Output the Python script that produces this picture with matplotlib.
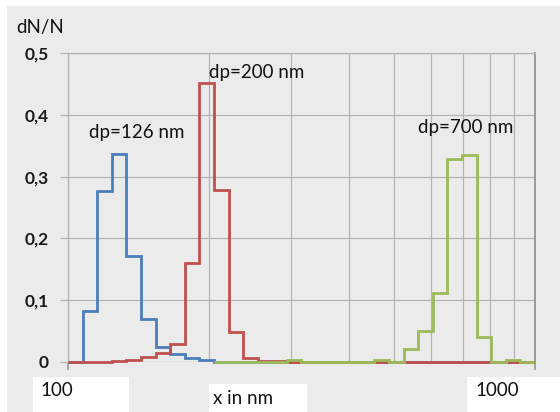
import matplotlib
matplotlib.use("Agg")
import matplotlib.pyplot as plt
from matplotlib.patches import Rectangle
from matplotlib.ticker import FixedLocator, NullFormatter

plt.rcParams['font.family'] = ['Lato', 'DejaVu Sans']

# log-spaced size bins (nm), 32 bins per decade
bin_edges_nm = [100.0, 107.5, 115.5, 124.1, 133.4, 143.3, 154.0, 165.5, 177.8, 191.1,
                205.4, 220.7, 237.1, 254.8, 273.8, 294.3, 316.2, 339.8, 365.2, 392.4,
                421.7, 453.2, 487.0, 523.3, 562.3, 604.3, 649.4, 697.8, 749.9, 805.8,
                866.0, 930.6, 1000.0]

dn_126 = [0, 0.083, 0.277, 0.337, 0.172, 0.070, 0.024, 0.013, 0.007, 0.003,
          0, 0, 0, 0, 0, 0, 0, 0, 0, 0, 0, 0, 0, 0, 0, 0, 0, 0, 0, 0, 0, 0]
dn_200 = [0, 0, 0, 0.0015, 0.003, 0.0075, 0.014, 0.029, 0.161, 0.451,
          0.278, 0.048, 0.006, 0.002, 0.001, 0, 0, 0, 0, 0, 0, 0, 0, 0, 0, 0, 0, 0, 0, 0, 0, 0]
# dp=700 series starts at bin 10 (205.4 nm)
dn_700_start = 10
dn_700 = [0, 0, 0, 0, 0, 0.003, 0, 0, 0, 0, 0, 0.003, 0, 0.0205, 0.050, 0.111,
          0.328, 0.335, 0.041, 0, 0.003, 0]

labels = ["dp=126 nm", "dp=200 nm", "dp=700 nm"]
label_pos = [(137, 0.372), (257, 0.469), (466, 0.380)]
y_ticks = [0, 0.1, 0.2, 0.3, 0.4, 0.5]
x_minor = [200, 300, 400, 500, 600, 700, 800, 900]

W, H = 560, 412
fig = plt.figure(figsize=(W / 100, H / 100), dpi=100, facecolor='white')

bg = '#ebebeb'
fig.patches.append(Rectangle((7 / W, 0), 1 - 7 / W, (H - 6) / H, transform=fig.transFigure,
                             facecolor=bg, edgecolor='none', zorder=-10))

ax = fig.add_axes([68 / W, (H - 362) / H, (535 - 68) / W, (362 - 53) / H])
ax.set_facecolor(bg)
ax.set_xscale('log')
ax.set_xlim(100, 1000)
ax.set_ylim(0, 0.5)

grid_c = '#b4b4b4'
ax.xaxis.set_major_locator(FixedLocator([100, 1000]))
ax.xaxis.set_minor_locator(FixedLocator(x_minor))
ax.xaxis.set_major_formatter(NullFormatter())
ax.xaxis.set_minor_formatter(NullFormatter())
ax.grid(True, which='both', axis='x', color=grid_c, linewidth=0.9)
ax.grid(True, which='major', axis='y', color=grid_c, linewidth=0.9)
ax.set_yticks(y_ticks)
ax.set_yticklabels(["0" if v == 0 else f"{v:.1f}".replace('.', ',') for v in y_ticks],
                   fontsize=12.5, color='#1a1a1a', fontweight='bold')
ax.tick_params(axis='y', length=6, color=grid_c, pad=8, width=0.9)
ax.tick_params(axis='x', which='major', length=6, color='#999999', width=1.2)
ax.tick_params(axis='x', which='minor', length=0)
for s in ['top', 'left']:
    ax.spines[s].set_color(grid_c)
    ax.spines[s].set_linewidth(0.9)
ax.spines['right'].set_color('#999999')
ax.spines['right'].set_linewidth(1.4)
ax.spines['bottom'].set_visible(False)
ax.set_axisbelow(True)

lw = 2.0
ax.stairs(dn_126, bin_edges_nm, baseline=0, color='#4a7ebb', linewidth=lw, clip_on=False, zorder=3)
ax.stairs(dn_200, bin_edges_nm, baseline=0, color='#c0504d', linewidth=lw, clip_on=False, zorder=4)
ax.stairs(dn_700, bin_edges_nm[dn_700_start:], baseline=0, color='#9bbb59', linewidth=lw,
          clip_on=False, zorder=5)

for lab, (px, yv) in zip(labels, label_pos):
    xv = 100 * 10 ** ((px - 68) / 467)
    ax.text(xv, yv, lab, fontsize=13.5, ha='center', va='center', color='#111111')

fig.text(40 / W, 1 - 28 / H, "dN/N", fontsize=13.5, ha='center', va='center', color='#111111')

# white label boxes along the bottom
for (x0, y0, x1), txt, tx, ty in [((33, 377, 129), "100", 40, 390),
                                  ((209, 384, 307), "x in nm", 213, 398),
                                  ((467, 377, 560), "1000", 475, 390)]:
    fig.patches.append(Rectangle((x0 / W, 0), (x1 - x0) / W, (H - y0) / H,
                                 transform=fig.transFigure, facecolor='white',
                                 edgecolor='none', zorder=-5))
    fig.text(tx / W, 1 - ty / H, txt, fontsize=13.5, ha='left', va='center', color='#111111')

fig.savefig('out.png', dpi=100, facecolor='white')
